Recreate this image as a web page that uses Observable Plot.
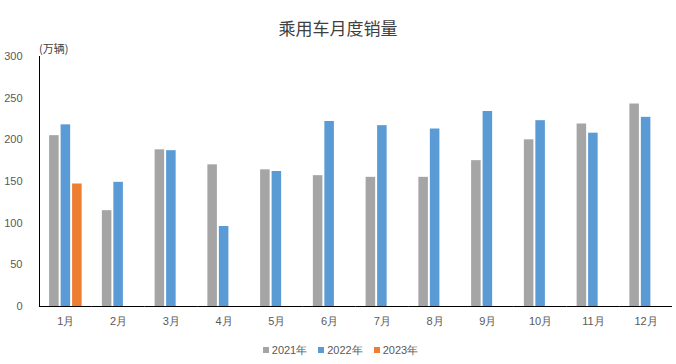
<!DOCTYPE html>
<html>
<head>
<meta charset="utf-8">
<script src="https://cdn.jsdelivr.net/npm/d3@7"></script>
<script src="https://cdn.jsdelivr.net/npm/@observablehq/plot@0.6"></script>
<style>
  html, body { margin: 0; padding: 0; background: #fff; }
  #wrap { position: relative; width: 676px; height: 364px; overflow: hidden; }
  #title { box-sizing: border-box; height: 40px; padding-top: 18px; line-height: 20px; text-align: center;
           font-family: "Noto Sans CJK SC", sans-serif; font-size: 17px; color: #404040; }
  #unit { position: absolute; left: 39px; top: 40px; font-family: "Noto Sans CJK SC", sans-serif; font-size: 11px; color: #404040; }
  #legend { box-sizing: border-box; height: 29px; padding-top: 0px; display: flex; justify-content: center; align-items: center;
            font-family: "Liberation Sans", sans-serif; font-size: 11px; color: #595959; line-height: 14px; padding-left: 16px; }
  .item { display: flex; align-items: center; margin-right: 11px; }
  .sw { width: 6px; height: 6px; margin-right: 3px; }
</style>
</head>
<body>
<div id="wrap">
  <div id="title">乘用车月度销量</div>
  <div id="unit">(万辆)</div>
  <div id="chart"></div>
  <div id="legend"></div>
</div>
<script>
const months = ["1月","2月","3月","4月","5月","6月","7月","8月","9月","10月","11月","12月"];
const series = ["2021年","2022年","2023年"];
const colors = ["#A5A5A5","#5B9BD5","#ED7D31"];
const sales2021 = [205,115,188,170,164,157,155,155,175,200,219,243];
const sales2022 = [218,149,187,96,162,222,217,213,234,223,208,227];
const sales2023 = [147];
const yTicks = [0,50,100,150,200,250,300];

const table = [sales2021, sales2022, sales2023].flatMap((vals, si) =>
  vals.map((v, i) => ({month: months[i], series: series[si], value: v})));

const chart = Plot.plot({
  width: 676, height: 295,
  marginTop: 16, marginBottom: 29, marginLeft: 39, marginRight: 4,
  style: {fontFamily: "Liberation Sans, sans-serif", fontSize: "11px", color: "#595959", background: "#fff"},
  fx: {domain: months, padding: 0, round: false},
  x: {domain: series, paddingInner: 0.17, paddingOuter: 0.88, round: false},
  y: {domain: [0, 300]},
  color: {domain: series, range: colors},
  marks: [
    Plot.barY(table, {fx: "month", x: "series", y: "value", fill: "series"}),
    Plot.ruleY([0], {stroke: "#000", strokeWidth: 1}),
    Plot.frame({anchor: "left", facetAnchor: "left", stroke: "#000"}),
    Plot.axisY({ticks: yTicks, tickSize: 0, tickPadding: 17, label: null, facetAnchor: "left"}),
    Plot.axisX({ticks: [], label: null, tickSize: 0}),
    Plot.axisFx({anchor: "bottom", tickSize: 0, tickPadding: 11, label: null})
  ]
});
document.getElementById("chart").appendChild(chart);

const legend = document.getElementById("legend");
series.forEach((s, i) => {
  const it = document.createElement("div");
  it.className = "item";
  const sw = document.createElement("div");
  sw.className = "sw";
  sw.style.background = colors[i];
  const t = document.createElement("span");
  t.textContent = s;
  it.appendChild(sw); it.appendChild(t);
  legend.appendChild(it);
});
</script>
</body>
</html>
